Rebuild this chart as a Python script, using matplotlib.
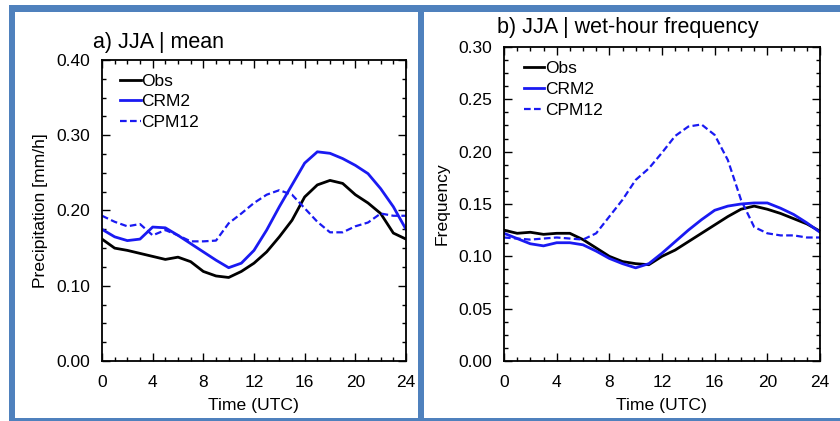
import matplotlib
matplotlib.use("Agg")
import matplotlib.pyplot as plt
from matplotlib.ticker import MultipleLocator, FormatStrFormatter
from matplotlib.patches import Rectangle

plt.rcParams['font.family'] = ['Liberation Sans', 'DejaVu Sans']

hours = list(range(25))

# Panel a) JJA mean precipitation [mm/h]
mean_obs = [0.162, 0.150, 0.147, 0.143, 0.139, 0.135, 0.138, 0.132, 0.119, 0.113,
            0.111, 0.119, 0.130, 0.145, 0.165, 0.187, 0.218, 0.234, 0.240, 0.236,
            0.221, 0.210, 0.196, 0.170, 0.162]
mean_crm2 = [0.175, 0.165, 0.160, 0.162, 0.178, 0.177, 0.167, 0.156, 0.145, 0.134,
             0.124, 0.130, 0.147, 0.174, 0.205, 0.234, 0.263, 0.278, 0.276, 0.269,
             0.260, 0.249, 0.229, 0.205, 0.175]
mean_cpm12 = [0.193, 0.185, 0.179, 0.182, 0.167, 0.174, 0.167, 0.159, 0.159, 0.160,
              0.183, 0.196, 0.210, 0.221, 0.227, 0.221, 0.203, 0.185, 0.171, 0.171,
              0.179, 0.184, 0.196, 0.193, 0.193]

# Panel b) JJA wet-hour frequency
freq_obs = [0.125, 0.122, 0.123, 0.121, 0.122, 0.122, 0.116, 0.108, 0.100, 0.095,
            0.093, 0.092, 0.100, 0.106, 0.114, 0.122, 0.130, 0.138, 0.145, 0.148,
            0.145, 0.141, 0.136, 0.131, 0.124]
freq_crm2 = [0.122, 0.117, 0.112, 0.110, 0.113, 0.113, 0.111, 0.105, 0.098, 0.093,
             0.089, 0.093, 0.103, 0.114, 0.125, 0.135, 0.144, 0.148, 0.150, 0.151,
             0.151, 0.146, 0.140, 0.132, 0.123]
freq_cpm12 = [0.118, 0.117, 0.116, 0.117, 0.118, 0.117, 0.116, 0.122, 0.138, 0.154,
              0.173, 0.184, 0.199, 0.215, 0.224, 0.226, 0.216, 0.192, 0.154, 0.128,
              0.122, 0.120, 0.120, 0.118, 0.118]

labels = ["Obs", "CRM2", "CPM12"]
BLUE = (0.1, 0.1, 0.95)

fig = plt.figure(figsize=(8.4, 4.21), dpi=100)

def style_axes(ax, ymax, ymajor, yminor, ylabel, title, title_xy, legend_xy):
    ax.set_xlim(0, 24)
    ax.set_ylim(0, ymax)
    ax.xaxis.set_major_locator(MultipleLocator(4))
    ax.xaxis.set_minor_locator(MultipleLocator(1))
    ax.yaxis.set_major_locator(MultipleLocator(ymajor))
    ax.yaxis.set_minor_locator(MultipleLocator(yminor))
    ax.yaxis.set_major_formatter(FormatStrFormatter('%.2f'))
    ax.tick_params(which='both', direction='in', top=True, right=True, width=1.0,
                   labelsize=12.5, colors='black')
    ax.tick_params(which='major', length=5.8)
    ax.tick_params(which='minor', length=2.9)
    ax.tick_params(axis='y', pad=8.5)
    ax.tick_params(axis='x', pad=10)
    for s in ax.spines.values():
        s.set_linewidth(1.3)
    ax.set_xlabel("Time (UTC)", fontsize=12.6, labelpad=6)
    ax.set_ylabel(ylabel, fontsize=12.6, labelpad=6)
    fig.text(title_xy[0], title_xy[1], title, fontsize=15.5, ha='left', va='baseline')
    ax.legend(loc='upper left', bbox_to_anchor=legend_xy, frameon=False,
              fontsize=12.5, handlelength=1.17, handletextpad=0.05,
              labelspacing=0.32, borderpad=0, borderaxespad=0)

# left panel
ax1 = fig.add_axes([102/840, 1-361/421, (406-102)/840, (361-60)/421])
ax1.plot(hours, mean_obs, color='black', lw=2.0, label=labels[0])
ax1.plot(hours, mean_crm2, color=BLUE, lw=2.0, label=labels[1])
ax1.plot(hours, mean_cpm12, color=BLUE, lw=1.6, ls=(0, (3.0, 1.5)), label=labels[2])
style_axes(ax1, 0.40, 0.10, 0.025, "Precipitation [mm/h]", "a) JJA | mean",
           (93/840, 1-48/421), (0.06, 0.955))

# right panel
ax2 = fig.add_axes([504/840, 1-361/421, (820-504)/840, (361-47)/421])
ax2.plot(hours, freq_obs, color='black', lw=2.0, label=labels[0])
ax2.plot(hours, freq_crm2, color=BLUE, lw=2.0, label=labels[1])
ax2.plot(hours, freq_cpm12, color=BLUE, lw=1.6, ls=(0, (3.0, 1.5)), label=labels[2])
style_axes(ax2, 0.30, 0.05, 0.0125, "Frequency", "b) JJA | wet-hour frequency",
           (497/840, 1-33/421), (0.063, 0.955))

# blue panel frames
FRAME = '#4f81bd'
def frect(x0, y0, x1, y1):
    fig.add_artist(Rectangle((x0/840, 1-y1/421), (x1-x0)/840, (y1-y0)/421,
                             transform=fig.transFigure, facecolor=FRAME,
                             edgecolor='none', zorder=10))
frect(9, 5, 840, 11.5)       # top bar
frect(9, 5, 15, 421)         # left bar
frect(418, 5, 424, 421)      # divider
frect(9, 418.3, 840, 421)    # bottom bar

fig.savefig("out.png", dpi=100)
